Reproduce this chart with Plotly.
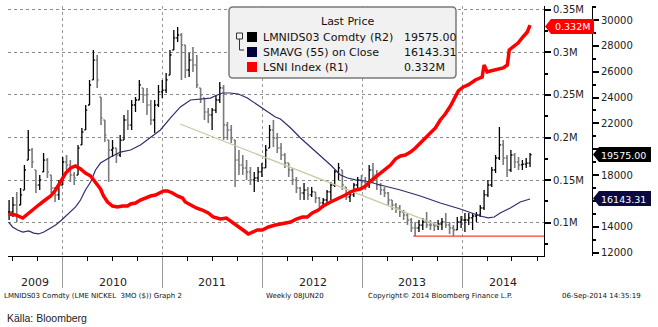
import plotly.graph_objects as go
import pandas as pd

# ---------------- data ----------------
bar_dates = pd.date_range("2009-06-19", periods=137, freq="14D")

hi = [16070,16300,16690,17000,18780,21490,20090,18390,18000,19710,
      19320,18000,17070,17620,19400,19550,19160,18240,20330,21640,
      23420,25360,27680,27290,24040,22260,20710,20710,20090,21100,
      22650,23030,23810,24040,25360,24740,24740,23810,23810,24970,
      25360,25900,27680,29230,29460,28990,28070,27450,27910,27290,
      24740,23960,23190,23190,24200,25200,24970,22110,21870,20710,
      19940,19550,19160,18620,18240,18620,18930,20330,21870,22260,
      21250,20480,19710,18930,18550,17850,17070,17380,17070,17070,
      16690,16300,16220,16840,17460,18390,18930,18390,17070,16690,
      17380,17850,18000,17850,18780,18930,18390,17380,17070,16690,
      16070,15840,15680,15290,15060,14680,14370,14520,14680,15140,
      14520,14370,14520,14680,15060,14370,14130,14750,14830,15060,
      15060,15060,15140,15680,16840,17620,18620,19550,21720,20710,
      19550,19940,19710,19400,19160,19320,19710]
lo = [14520,14750,14370,15680,16840,19160,18550,16610,16840,18240,
      17770,16610,15910,16070,17230,18390,17460,17230,18000,20330,
      21490,23420,25360,24740,21870,20560,17460,19400,18930,19400,
      20710,21490,21490,22880,23810,23580,22650,21870,21250,23270,
      23960,24350,25740,27680,28300,25360,25510,25590,25980,24740,
      23580,22260,22030,21490,22800,23580,20710,20710,20480,17070,
      18000,18000,17620,17230,16690,17460,17850,18550,20090,20170,
      19710,19160,18550,17850,17230,16610,16070,16070,16070,16300,
      15840,15530,15450,15840,16070,17070,17620,16840,16070,15910,
      16300,17000,17070,16840,17000,17380,16840,16460,16300,15680,
      15290,15060,14750,14520,14130,13590,13280,13590,13750,13900,
      13750,13670,13750,13750,13900,13440,13280,13750,13900,13590,
      14130,13750,14370,14750,15290,16300,17070,18160,19160,18780,
      17850,18240,18550,18390,18390,18550,18620]
cl = [15140,15680,14910,16460,18390,19940,19010,17230,17620,19160,
      18240,16990,16460,17230,19010,18780,18000,17770,20090,21330,
      23030,24970,26900,25360,22420,21100,19940,20090,19550,20710,
      22260,21870,23420,23810,24970,24200,23420,22260,23420,24430,
      24580,25360,27290,28610,28840,28070,26130,26900,26520,24970,
      24200,22880,22650,23030,23810,24740,21870,21490,20870,19160,
      18780,18550,18240,17620,17770,18240,18550,19940,21490,20870,
      20090,19550,18930,18390,17620,17000,16610,16840,16460,16690,
      16220,15840,16070,16690,17230,18240,18550,17230,16300,16460,
      17230,17620,17460,17230,18390,18000,17230,16840,16610,16070,
      15680,15450,15140,14910,14520,13900,13900,14130,14370,14130,
      14130,14060,14210,14370,14130,13900,13750,14370,14520,14520,
      14680,14830,14910,15450,16460,17230,18390,19320,20330,19320,
      18390,19550,19010,18780,18850,18930,19575]

sma_dates = ["2009-06-17","2009-07-02","2009-07-20","2009-08-08","2009-08-30","2009-09-17",
             "2009-10-05","2009-10-24","2009-11-18","2009-12-06","2009-12-24",
             "2010-01-12","2010-01-30","2010-02-17","2010-03-07","2010-03-25","2010-04-13",
             "2010-05-01","2010-05-19","2010-06-25","2010-07-31","2010-09-06","2010-10-12",
             "2010-11-18","2010-12-24",
             "2011-01-30","2011-03-07","2011-04-13","2011-05-19","2011-06-25","2011-07-20",
             "2011-08-07","2011-09-06","2011-10-05","2011-11-07","2011-12-13",
             "2012-01-19","2012-02-17","2012-03-07","2012-04-13","2012-05-19","2012-06-25",
             "2012-07-31","2012-09-06","2012-10-12","2012-11-07","2012-12-06",
             "2013-01-12","2013-03-07","2013-05-19","2013-07-31","2013-10-12","2013-12-24",
             "2014-03-07","2014-04-05","2014-04-27","2014-05-19","2014-06-25","2014-07-31",
             "2014-09-05"]
sma_vals = [14365,13980,13750,13590,13670,13510,13440,13590,13900,14130,14440,
            14830,15140,15530,16070,16840,17460,18390,18930,19400,19780,19940,20330,20940,21490,
            22420,23270,23810,23890,23960,24200,24350,24350,24270,23960,23420,
            22880,22490,22340,21640,20870,20170,19550,18780,18000,17770,17620,
            17540,17230,16840,16380,15840,15370,
            14830,14680,14750,15060,15450,15910,16143.31]

lsni_dates = ["2009-06-17","2009-07-13","2009-08-08","2009-08-26","2009-09-17","2009-10-05",
              "2009-10-24","2009-11-18","2009-12-06","2009-12-24","2010-01-12","2010-01-30",
              "2010-02-17","2010-03-07","2010-03-25","2010-04-13","2010-05-01","2010-05-19",
              "2010-05-30","2010-06-14","2010-07-02","2010-07-20","2010-08-07","2010-08-26",
              "2010-09-06","2010-09-24","2010-10-12","2010-10-30","2010-11-18","2010-12-06",
              "2010-12-24","2011-01-04","2011-01-19","2011-02-06","2011-02-24","2011-03-15",
              "2011-03-25","2011-04-13","2011-05-04","2011-05-26","2011-06-17","2011-07-05",
              "2011-07-31","2011-08-22","2011-09-13","2011-10-05","2011-10-27","2011-11-10",
              "2011-11-25","2011-12-13","2011-12-31","2012-01-23","2012-02-17","2012-03-14",
              "2012-04-13","2012-05-04","2012-05-26","2012-06-13","2012-07-01","2012-07-23",
              "2012-08-10","2012-09-06","2012-10-01","2012-10-30","2012-11-18","2012-12-06",
              "2012-12-24","2013-01-12","2013-01-30","2013-02-17","2013-03-07","2013-03-25",
              "2013-04-13","2013-05-01","2013-05-19","2013-06-06","2013-06-25","2013-07-13",
              "2013-07-31","2013-08-18","2013-09-06","2013-09-24","2013-10-12","2013-10-30",
              "2013-11-18","2013-12-06","2013-12-17","2014-01-04","2014-01-22","2014-02-17",
              "2014-03-14","2014-03-21","2014-04-01","2014-04-13","2014-05-08","2014-05-30",
              "2014-06-14","2014-06-21","2014-07-05","2014-07-23","2014-08-10","2014-08-26",
              "2014-09-05"]
lsni_vals = [110210,109040,105520,110210,117250,120770,
             125470,131340,138380,148940,158330,164200,
             166550,163030,158330,154810,147770,139550,
             131340,124290,119600,118430,119600,119600,
             121950,123120,126640,128990,131340,132510,
             134860,137210,137210,134860,131340,128990,
             124290,120770,117250,114900,111380,106690,
             104340,105520,100820,96130,90260,86740,
             89080,91430,91430,94950,97300,98470,
             100820,104340,106690,106690,111380,114900,
             119600,124290,127810,132510,136030,138380,
             139550,143080,148940,153640,158330,161850,
             167720,174760,178280,179460,182980,187680,
             193550,199420,205280,211150,220540,227590,
             236980,247540,254590,259280,261630,267500,
             271020,285110,276890,278060,280410,281580,
             285110,302720,306240,310930,317980,323850,
             332000]

trend_dates = ["2011-03-06", "2013-10-12"]
trend_vals = [21950, 14050]
support_dates = ["2013-07-05", "2014-10-26"]
support_vals = [13280, 13280]

r1_ticks = [100000, 150000, 200000, 250000, 300000, 350000]
r1_labels = ["0.1M", "0.15M", "0.2M", "0.25M", "0.3M", "0.35M"]
r2_ticks = [12000, 14000, 16000, 18000, 20000, 22000, 24000, 26000, 28000, 30000]
r2_labels = ["12000", "14000", "", "18000", "", "22000", "24000", "26000", "28000", "30000"]
years = ["2009", "2010", "2011", "2012", "2013", "2014"]
year_centers = ["2009-09-23", "2010-07-02", "2011-07-02", "2012-07-02", "2013-07-02", "2014-05-29"]

last_price = "19575.00"
last_sma = "16143.31"
last_lsni = "0.332M"

# ---------------- layout helpers ----------------
W, H = 658, 327
ML, MR, MT, MB = 8, 0, 6, 71
PW, PH = W - ML - MR, H - MT - MB


def px(x):
    return (x - ML) / PW


def py(y):
    return (H - MB - y) / PH


def pt(x, y):
    return f"{px(x):.5f},{py(y):.5f}"


def rrect(x0, y0, x1, y1, r):
    return (f"M {pt(x0 + r, y0)} L {pt(x1 - r, y0)} Q {pt(x1, y0)} {pt(x1, y0 + r)} "
            f"L {pt(x1, y1 - r)} Q {pt(x1, y1)} {pt(x1 - r, y1)} L {pt(x0 + r, y1)} "
            f"Q {pt(x0, y1)} {pt(x0, y1 - r)} L {pt(x0, y0 + r)} Q {pt(x0, y0)} {pt(x0 + r, y0)} Z")


def tag(xtip, yc, x1, h):
    return (f"M {pt(xtip, yc)} L {pt(xtip + 6, yc - h / 2)} L {pt(x1, yc - h / 2)} "
            f"L {pt(x1, yc + h / 2)} L {pt(xtip + 6, yc + h / 2)} Z")


FONT = "DejaVu Sans"

# open = previous close, kept inside the bar's range
op = []
for i in range(len(cl)):
    prev = cl[i - 1] if i > 0 else cl[0]
    op.append(min(max(prev, lo[i]), hi[i]))

fig = go.Figure()
fig.add_trace(go.Ohlc(x=bar_dates, open=op, high=hi, low=lo, close=cl, yaxis="y",
                      increasing=dict(line=dict(color="#000000", width=1.3)),
                      decreasing=dict(line=dict(color="#7a7a7a", width=1.6)),
                      tickwidth=0.4, hoverinfo="skip", showlegend=False))
fig.add_trace(go.Scatter(x=trend_dates, y=trend_vals, mode="lines", yaxis="y",
                         line=dict(color="#c9c9a6", width=1.2), hoverinfo="skip"))
fig.add_trace(go.Scatter(x=sma_dates, y=sma_vals, mode="lines", yaxis="y",
                         line=dict(color="#2e2e6e", width=1.2), hoverinfo="skip"))
fig.add_trace(go.Scatter(x=support_dates, y=support_vals, mode="lines", yaxis="y",
                         line=dict(color="#ff3b3b", width=1.2), hoverinfo="skip"))
fig.add_trace(go.Scatter(x=lsni_dates, y=lsni_vals, mode="lines", yaxis="y2",
                         line=dict(color="#ff0000", width=3.5), hoverinfo="skip"))

tickfont = dict(family=FONT, size=10, color="#222222")

fig.update_layout(
    template="none",
    width=W, height=H,
    margin=dict(l=ML, r=MR, t=MT, b=MB, autoexpand=False),
    paper_bgcolor="white", plot_bgcolor="white",
    showlegend=False, hovermode=False,
    xaxis=dict(type="date", range=["2009-06-15", "2014-10-26"], domain=[0, px(544)],
               anchor="y", showline=True, linecolor="black", linewidth=1,
               ticks="outside", ticklen=31, tickcolor="#9a9a9a", tickwidth=1,
               tick0="2010-01-01", dtick="M12",
               showgrid=True, gridcolor="#9a9a9a", griddash="dot", gridwidth=1,
               showticklabels=False, zeroline=False, automargin=False,
               rangeslider=dict(visible=False),
               minor=dict(tick0="2010-01-01", dtick="M3", ticks="outside", ticklen=4,
                          tickcolor="black", tickwidth=1, showgrid=False)),
    yaxis=dict(anchor="free", position=px(592), side="right", range=[11734, 31084],
               tickmode="array", tickvals=r2_ticks, ticktext=r2_labels,
               ticks="outside", ticklen=6, tickwidth=1.5, tickcolor="black",
               showline=True, linecolor="black", linewidth=1,
               showgrid=False, zeroline=False, automargin=False, tickfont=tickfont,
               minor=dict(tickmode="linear", tick0=11000, dtick=1000, ticks="outside",
                          ticklen=3, tickcolor="black", showgrid=False)),
    yaxis2=dict(overlaying="y", anchor="x", side="right", range=[60920, 354340],
                tickmode="array", tickvals=r1_ticks, ticktext=r1_labels,
                ticks="outside", ticklen=6, tickwidth=1.5, tickcolor="black",
                showline=True, linecolor="black", linewidth=1,
                showgrid=True, gridcolor="#8a8a8a", griddash="dot", gridwidth=1,
                zeroline=False, automargin=False, tickfont=tickfont,
                minor=dict(tickmode="linear", tick0=75000, dtick=25000, ticks="outside",
                           ticklen=3, tickcolor="black", showgrid=False)),
)

shapes = []
# legend box
shapes.append(dict(type="path", xref="paper", yref="paper", path=rrect(229, 7, 456, 78, 4),
                   fillcolor="#f1f1f1", line=dict(color="#7a7a7a", width=1.5), layer="above"))
# legend squares
for (yc, col) in [(37, "#000000"), (52, "#00003a"), (67, "#ff0000")]:
    shapes.append(dict(type="rect", xref="paper", yref="paper",
                       x0=px(247), x1=px(257), y0=py(yc + 5), y1=py(yc - 5),
                       fillcolor=col, line=dict(width=0), layer="above"))
# tree icon
shapes.append(dict(type="rect", xref="paper", yref="paper", x0=px(236.5), x1=px(242.5),
                   y0=py(39), y1=py(33), fillcolor="#f1f1f1",
                   line=dict(color="#333333", width=1), layer="above"))
shapes.append(dict(type="path", xref="paper", yref="paper",
                   path=f"M {pt(239.5, 39)} L {pt(239.5, 50)} L {pt(244, 50)}",
                   line=dict(color="#333333", width=1), layer="above"))
# value tags
shapes.append(dict(type="path", xref="paper", yref="paper", path=tag(545, 26.5, 594, 15),
                   fillcolor="#ff0000", line=dict(width=0), layer="above"))
shapes.append(dict(type="path", xref="paper", yref="paper", path=tag(593, 154.5, 651, 15),
                   fillcolor="#000000", line=dict(width=0), layer="above"))
shapes.append(dict(type="path", xref="paper", yref="paper", path=tag(593, 198.5, 651, 15),
                   fillcolor="#0a0a40", line=dict(width=0), layer="above"))
fig.update_layout(shapes=shapes)

ann = []


def text(x, y, s, size=11, color="#111111", anchor="left", family=FONT):
    ann.append(dict(xref="paper", yref="paper", x=px(x), y=py(y), text=s, showarrow=False,
                    xanchor=anchor, yanchor="middle",
                    font=dict(family=family, size=size, color=color)))


# legend text
text(347, 22, "Last Price", anchor="center")
text(261, 37, "LMNIDS03 Comdty")
text(368, 37, "(R2)")
text(402, 37, last_price)
text(261, 52, "SMAVG (55) on Close")
text(402, 52, last_sma)
text(261, 67, "LSNI Index")
text(323, 67, "(R1)")
text(402, 67, last_lsni)
# tag labels
text(572, 27, last_lsni, size=9.5, color="white", anchor="center")
text(623, 155, last_price, size=9.5, color="white", anchor="center")
text(623, 199, last_sma, size=9.5, color="white", anchor="center")
# footer
text(2, 296, "LMNIDS03 Comdty (LME NICKEL\u00a0\u00a03MO ($)) Graph 2", size=7, color="#111111")
text(264, 296, "Weekly 08JUN20", size=7, color="#111111")
text(366, 296, "Copyright\u00a9 2014 Bloomberg Finance L.P.", size=7, color="#111111")
text(560, 296, "06-Sep-2014 14:35:19", size=7, color="#111111")
text(5, 318, "Källa: Bloomberg", size=10.5, color="#222222", family="Liberation Sans")

# year labels
for yr, c in zip(years, year_centers):
    ann.append(dict(xref="x", yref="paper", x=c, y=py(282), text=yr, showarrow=False,
                    xanchor="center", yanchor="middle",
                    font=dict(family=FONT, size=11, color="#222222")))

fig.update_layout(annotations=ann)
fig.write_html("out.html")
